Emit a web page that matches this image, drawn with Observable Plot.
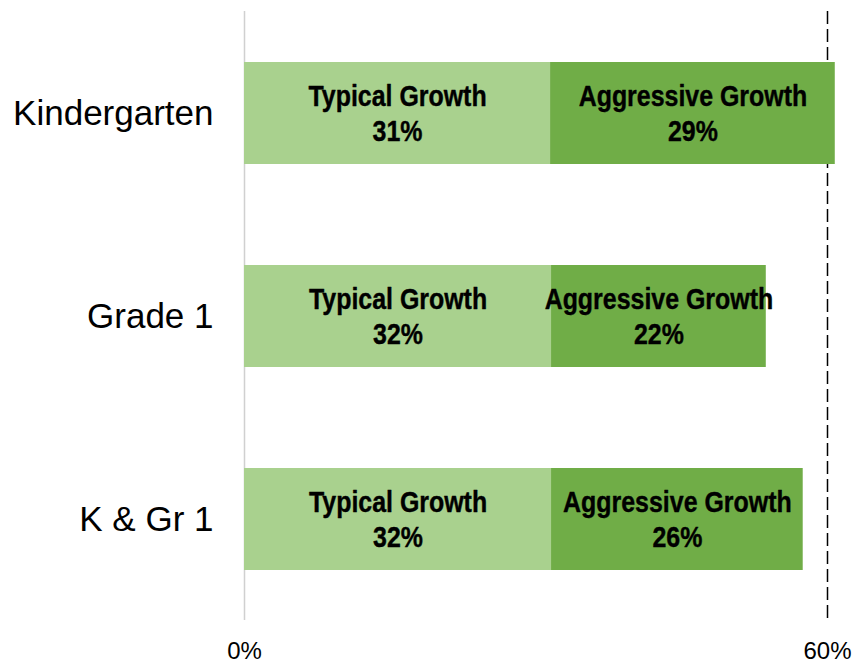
<!DOCTYPE html>
<html>
<head>
<meta charset="utf-8">
<script src="https://cdn.jsdelivr.net/npm/d3@7"></script>
<script src="https://cdn.jsdelivr.net/npm/@observablehq/plot@0.6"></script>
<style>
  html, body { margin: 0; padding: 0; background: #fff; }
  svg { overflow: visible; }
</style>
</head>
<body>
<div id="chart"></div>
<script>
const grades = ["Kindergarten", "Grade 1", "K & Gr 1"];
const series = ["Typical Growth", "Aggressive Growth"];
const typical = [31.5, 31.6, 31.6];
const aggressive = [29.3, 22.1, 25.9];
const typicalLabels = ["31%", "32%", "32%"];
const aggressiveLabels = ["29%", "22%", "26%"];
const xTicks = [0, 60];
const targetLine = [60];
const colors = ["#A9D18E", "#70AD47"];

const table = [];
grades.forEach((g, i) => {
  table.push({grade: g, series: series[0], value: typical[i], label: series[0] + "\n" + typicalLabels[i]});
  table.push({grade: g, series: series[1], value: aggressive[i], label: series[1] + "\n" + aggressiveLabels[i]});
});

const chart = Plot.plot({
  width: 856,
  height: 663,
  marginTop: 11,
  marginBottom: 43,
  marginLeft: 244,
  marginRight: 29,
  style: {fontFamily: "'Liberation Sans', Arial, sans-serif", color: "#000", background: "#fff"},
  x: {domain: [0, 60]},
  y: {domain: grades, paddingInner: 0.5, paddingOuter: 0.25},
  color: {domain: series, range: colors},
  marks: [
    Plot.ruleX([0], {stroke: "#d0d0d0", strokeWidth: 1.5}),
    Plot.ruleX(targetLine, {stroke: "#000", strokeWidth: 1.5, strokeDasharray: "13,5"}),
    Plot.barX(table, Plot.stackX({x: "value", y: "grade", fill: "series", order: null})),
    Plot.text(table, Plot.stackX({
      x: "value", y: "grade", order: null, text: "label",
      fill: "#000", fontWeight: "bold", fontSize: 29, lineHeight: 35 / 29, dy: -1,
      stroke: "#000", strokeWidth: 0.4,
      fontFamily: "'Liberation Sans', Arial, sans-serif",
      className: "barlabel"
    })),
    Plot.axisY({tickSize: 0, tickPadding: 31, fontSize: 35, label: null}),
    Plot.axisX({ticks: xTicks, tickSize: 0, tickPadding: 21, fontSize: 24, tickFormat: d => d + "%", label: null})
  ]
});
// condense the bar labels horizontally (the reference uses a narrow bold face)
chart.querySelectorAll(".barlabel text").forEach(t => {
  const tr = t.getAttribute("transform") || "";
  t.setAttribute("transform", tr + " scale(0.86,1)");
});
document.getElementById("chart").appendChild(chart);
</script>
</body>
</html>
